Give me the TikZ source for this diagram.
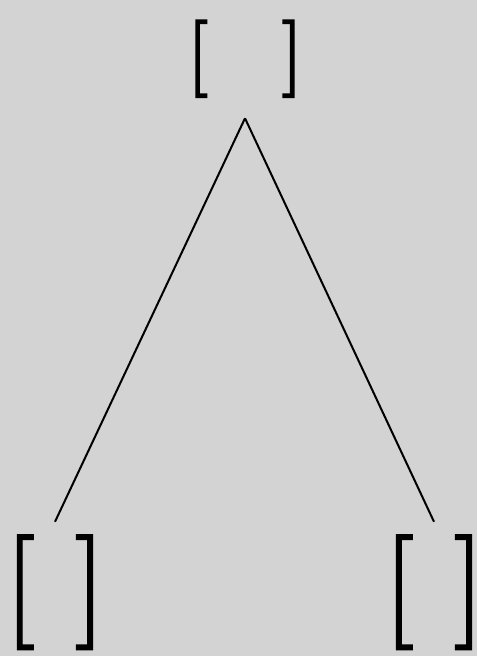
\documentclass[tikz,border=0pt]{standalone}
\usepackage{fontspec}
\setmainfont{lmroman10-regular.otf}
\newfontfamily\topfont{lmroman10-regular.otf}[FakeBold=2]
\newfontfamily\leaffont{lmroman10-regular.otf}[FakeBold=1.2]
\definecolor{bg}{HTML}{D3D3D3}
\begin{document}
\begin{tikzpicture}[x=1pt,y=-1pt,
  topnode/.style={font=\topfont\fontsize{77}{80}\selectfont, anchor=base, inner sep=0pt, outer sep=0pt},
  leafnode/.style={font=\leaffont\fontsize{115}{120}\selectfont, anchor=base, inner sep=0pt, outer sep=0pt},
  edge/.style={line width=2pt, black}]
\fill[bg] (0,0) rectangle (477,656);
\useasboundingbox (0,0) rectangle (477,656);
\node[topnode] (root) at (245,78) {[\hspace{0.95em}]};
\node[leafnode] (left) at (55,621) {[ ]};
\node[leafnode] (right) at (434,621) {[ ]};
\coordinate (apex) at ([yshift=-21pt]root.south);
\coordinate (ltip) at ([yshift=13pt]left.north);
\coordinate (rtip) at ([yshift=13pt]right.north);
\draw[edge] (apex) -- (ltip);
\draw[edge] (apex) -- (rtip);
\end{tikzpicture}
\end{document}
